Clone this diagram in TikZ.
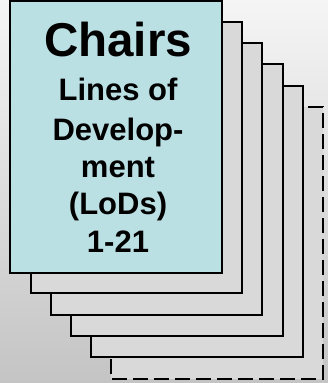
\documentclass[tikz,border=0pt]{standalone}
\usepackage{fontspec}
\setmainfont{Liberation Sans}
\definecolor{frontfill}{RGB}{187,224,228}
\definecolor{pagefill}{RGB}{217,217,217}
\definecolor{bgtop}{RGB}{245,245,245}
\definecolor{bgbot}{RGB}{196,196,196}
\begin{document}
\begin{tikzpicture}[x=1pt,y=-1pt,
  pagebox/.style={draw=black,line width=1.5pt,fill=pagefill},
  frontbox/.style={draw=black,line width=1.5pt,fill=frontfill},
  lastbox/.style={draw=black,line width=1.5pt,fill=pagefill,dash pattern=on 15pt off 6pt},
  titletext/.style={anchor=base,font=\fontsize{47.5}{52}\selectfont\bfseries,inner sep=0pt},
  bodytext/.style={anchor=base,font=\fontsize{31}{36}\selectfont\bfseries,inner sep=0pt}]
\useasboundingbox (0,0) rectangle (328,383);
\shade[shading angle=30,top color=bgtop,bottom color=bgbot] (0,0) rectangle (328,383);
\draw[lastbox] (111,107) rectangle (323,379);
\draw[pagebox] (91,86) rectangle (303,357);
\draw[pagebox] (71,64) rectangle (283,336);
\draw[pagebox] (51,43) rectangle (262,315);
\draw[pagebox] (31,22) rectangle (242,293);
\draw[frontbox] (10,1) rectangle (222,273);
\node[titletext] (t1) at (118,56) {Chairs};
\node[bodytext] (t2) at (118,100) {Lines of};
\node[bodytext] (t3) at (118,140) {Develop-};
\node[bodytext] (t4) at (118,177) {ment};
\node[bodytext] (t5) at (118,214) {(LoDs)};
\node[bodytext] (t6) at (118,252) {1-21};
\end{tikzpicture}
\end{document}
